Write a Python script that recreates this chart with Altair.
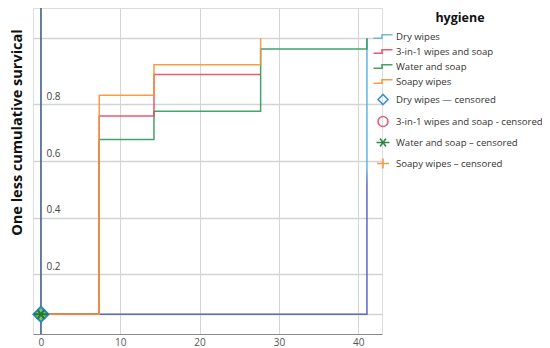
import altair as alt
import pandas as pd

# ---- data ----
series = ["Dry wipes", "3-in-1 wipes and soap", "Water and soap", "Soapy wipes"]
censored = ["Dry wipes — censored", "3-in-1 wipes and soap - censored",
            "Water and soap – censored", "Soapy wipes – censored"]
line_colors = ["#62b3da", "#e8485e", "#2f9a5c", "#f7932f"]
cens_colors = ["#2a88c8", "#e0506a", "#1d7a3c", "#f7932f"]

dry_t = [0, 41.1]
dry_s = [0.059, 1.033]
soap3_t = [0, 7.35, 14.25, 27.7]
soap3_s = [0.059, 0.759, 0.905, 0.905]
water_t = [0, 7.35, 14.25, 27.7, 41.1]
water_s = [0.059, 0.676, 0.776, 0.995, 1.033]
soapy_t = [0, 7.35, 14.25, 27.7]
soapy_s = [0.059, 0.832, 0.940, 1.033]

cens_t = [0, 0, 0, 0]
cens_s = [0.059, 0.059, 0.059, 0.059]
cens_order = [1, 3, 0, 2]  # drawing order of censored markers (diamond, then star on top)

x_ticks = [0, 10, 20, 30, 40]
y_grid = [0.059, 0.2, 0.4, 0.6, 0.8, 1.033]

step_path = "M-1.9,0.35H-0.2V-0.35H1.9"
star_path = "M-1.3,0H1.3M-0.6,-0.8L0.6,0.8M-0.6,0.8L0.6,-0.8"
plus_path = "M-1.2,0H1.2M0,-1.0V1.0"
shapes = [step_path] * 4 + ["diamond", "circle", star_path, plus_path]

keys = series + censored
color_scale = alt.Scale(domain=keys, range=line_colors + cens_colors)
shape_scale = alt.Scale(domain=keys, range=shapes)

FONT = "Open Sans"

legend = alt.Legend(
    title="hygiene", orient="none", legendX=344, legendY=4,
    titleFont=FONT, titleFontSize=12.5, titleFontWeight="bold", titleColor="#111",
    titleAnchor="middle", titlePadding=6,
    labelFont=FONT, labelFontSize=9.6, labelColor="#333", labelLimit=260, labelOffset=7,
    symbolSize=100, symbolStrokeWidth=1.6, rowPadding=4, symbolFillColor="transparent",
)

x_enc = alt.X("t:Q", scale=alt.Scale(domain=[-1, 43], nice=False, zero=False),
              axis=alt.Axis(values=x_ticks, title=None, grid=True, gridColor="#d4d4d4",
                            ticks=False, domainColor="#8a8a8a", labelColor="#555",
                            labelFont=FONT, labelFontSize=10, labelPadding=3, format="d"))
y_enc = alt.Y("s:Q", scale=alt.Scale(domain=[-0.0104, 1.140], nice=False, zero=False),
              axis=alt.Axis(values=y_grid, grid=True, gridColor="#d4d4d4", gridWidth=1.4,
                            domain=False, ticks=False, labelAlign="left", labelPadding=-13,
                            labelOffset=-5, labelBaseline="alphabetic", labelColor="#444",
                            labelFont=FONT, labelFontSize=10, labelOverlap=False,
                            labelExpr="datum.value > 0.1 && datum.value < 0.9 ? format(datum.value, '.1f') : ''",
                            title="One less cumulative survical", titleX=-16, titleY=124,
                            titleAngle=270, titleBaseline="middle", titleAlign="center",
                            titleFont=FONT, titleFontSize=14.5, titleFontWeight="bold",
                            titleColor="#111"))


def line_df(name, t, s):
    return pd.DataFrame({"t": t, "s": s, "key": name})


# dry wipes: light blue above, blue-violet along the lower part (as in the picture)
dry_gradient = alt.LinearGradient(
    gradient="linear", x1=0, y1=0, x2=0, y2=1,
    stops=[alt.GradientStop(color="#62b3da", offset=0),
           alt.GradientStop(color="#62b3da", offset=0.47),
           alt.GradientStop(color="#5b66c6", offset=0.53),
           alt.GradientStop(color="#5b66c6", offset=1)],
)
dry_layer = alt.Chart(line_df(series[0], dry_t, dry_s)).mark_line(
    interpolate="step-after", strokeWidth=1.5, stroke=dry_gradient
).encode(x=x_enc, y=y_enc)

line_data = [
    (series[2], water_t, water_s),
    (series[1], soap3_t, soap3_s),
    (series[3], soapy_t, soapy_s),
]

layers = [dry_layer]
for name, t, s in line_data:
    layers.append(
        alt.Chart(line_df(name, t, s)).mark_line(interpolate="step-after", strokeWidth=1.5, opacity=0.9)
        .encode(x=x_enc, y=y_enc, color=alt.Color("key:N", scale=color_scale, legend=legend))
    )

axis_rule = alt.Chart(pd.DataFrame({"t": [0]})).mark_rule(color="#3f5e8c", strokeWidth=1.5).encode(x=x_enc)

cens_df = pd.DataFrame({"t": [cens_t[i] for i in cens_order],
                        "s": [cens_s[i] for i in cens_order],
                        "key": [censored[i] for i in cens_order]})

is_diamond = alt.datum.key == censored[0]
points = alt.Chart(cens_df).mark_point(filled=False, strokeWidth=2, opacity=1).encode(
    x=x_enc, y=y_enc,
    color=alt.Color("key:N", scale=color_scale, legend=legend),
    shape=alt.Shape("key:N", scale=shape_scale, legend=legend),
    fill=alt.condition(is_diamond, alt.value("#8cc63f"), alt.value("transparent")),
    size=alt.condition(is_diamond, alt.value(230), alt.value(110)),
)

chart = alt.layer(axis_rule, *layers, points).properties(
    width=349, height=326,
    autosize=alt.AutoSizeParams(type="none"),
    padding={"left": 25, "top": 0, "right": 160, "bottom": 14},
).configure_view(stroke=None).configure(background="white")

chart.save("out.html", embed_options={"renderer": "svg", "actions": False})
